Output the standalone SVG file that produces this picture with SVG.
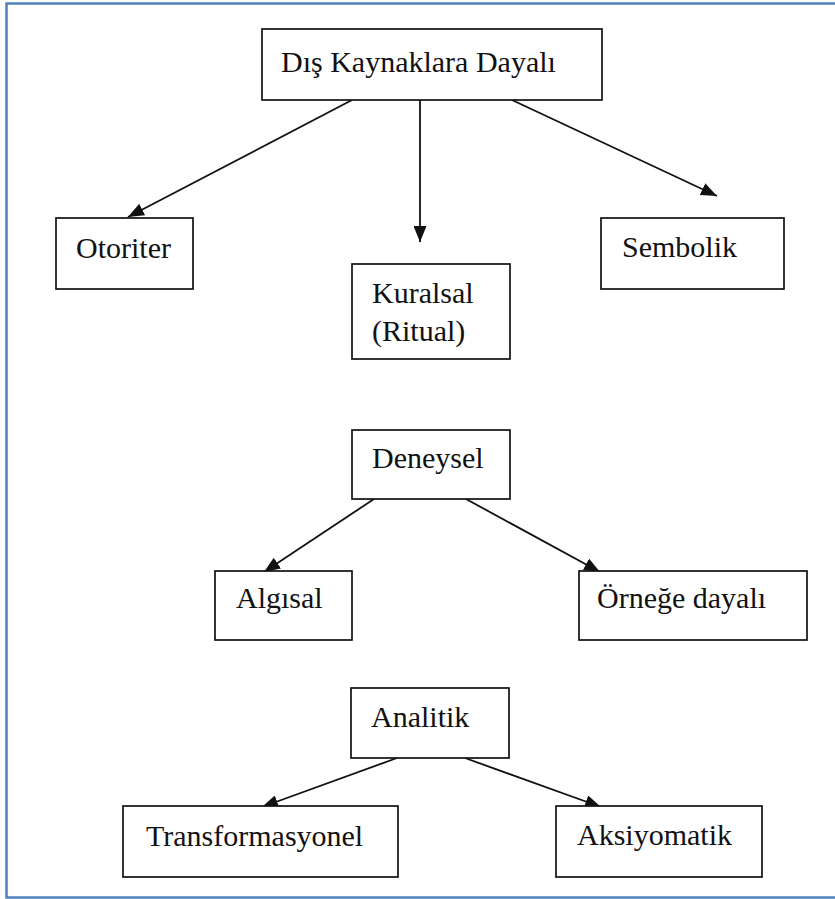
<svg xmlns="http://www.w3.org/2000/svg" width="835" height="899" viewBox="0 0 835 899">
<style>
.box{fill:#fff;stroke:#111;stroke-width:1.7}
.lbl{font-family:"Liberation Serif","Times New Roman",serif;font-size:30px;fill:#111}
.con{stroke:#111;stroke-width:1.8;fill:none;marker-end:url(#ah)}
.frame{stroke:#4f81bd;stroke-width:2.5;fill:none}
</style>
<defs>
<marker id="ah" viewBox="0 0 16 13" refX="16" refY="6.5" markerWidth="16" markerHeight="13" markerUnits="userSpaceOnUse" orient="auto">
<path d="M0,0 L16,6.5 L0,13 Z" fill="#111"/>
</marker>
</defs>
<rect width="835" height="899" fill="#fff"/>
<path class="frame" d="M840,3.5 H6.5 V897.5 H840"/>
<g id="connectors">
<line class="con" x1="352" y1="100" x2="128" y2="217"/>
<line class="con" x1="420" y1="100" x2="420" y2="242"/>
<line class="con" x1="512" y1="100" x2="717" y2="196"/>
<line class="con" x1="374" y1="499" x2="264" y2="572"/>
<line class="con" x1="466" y1="499" x2="600" y2="572"/>
<line class="con" x1="397" y1="758" x2="262" y2="807"/>
<line class="con" x1="465" y1="758" x2="601" y2="807"/>
</g>
<g id="n-dis">
<rect class="box" x="262" y="29" width="340" height="71"/>
<text class="lbl" x="281" y="72">Dış Kaynaklara Dayalı</text>
</g>
<g id="n-otoriter">
<rect class="box" x="56" y="218" width="137" height="71"/>
<text class="lbl" x="76" y="258">Otoriter</text>
</g>
<g id="n-kuralsal">
<rect class="box" x="352" y="264" width="158" height="95"/>
<text class="lbl" x="372" y="303">Kuralsal</text>
<text class="lbl" x="372" y="341">(Ritual)</text>
</g>
<g id="n-sembolik">
<rect class="box" x="601" y="218" width="183" height="71"/>
<text class="lbl" x="622" y="257">Sembolik</text>
</g>
<g id="n-deneysel">
<rect class="box" x="352" y="430" width="158" height="69"/>
<text class="lbl" x="372" y="468">Deneysel</text>
</g>
<g id="n-algisal">
<rect class="box" x="215" y="571" width="137" height="69"/>
<text class="lbl" x="236" y="608">Algısal</text>
</g>
<g id="n-ornege">
<rect class="box" x="579" y="571" width="228" height="69"/>
<text class="lbl" x="597" y="608">Örneğe dayalı</text>
</g>
<g id="n-analitik">
<rect class="box" x="351" y="688" width="158" height="70"/>
<text class="lbl" x="371" y="727">Analitik</text>
</g>
<g id="n-transformasyonel">
<rect class="box" x="123" y="806" width="275" height="71"/>
<text class="lbl" x="146" y="846">Transformasyonel</text>
</g>
<g id="n-aksiyomatik">
<rect class="box" x="556" y="806" width="206" height="71"/>
<text class="lbl" x="577" y="845">Aksiyomatik</text>
</g>
</svg>
